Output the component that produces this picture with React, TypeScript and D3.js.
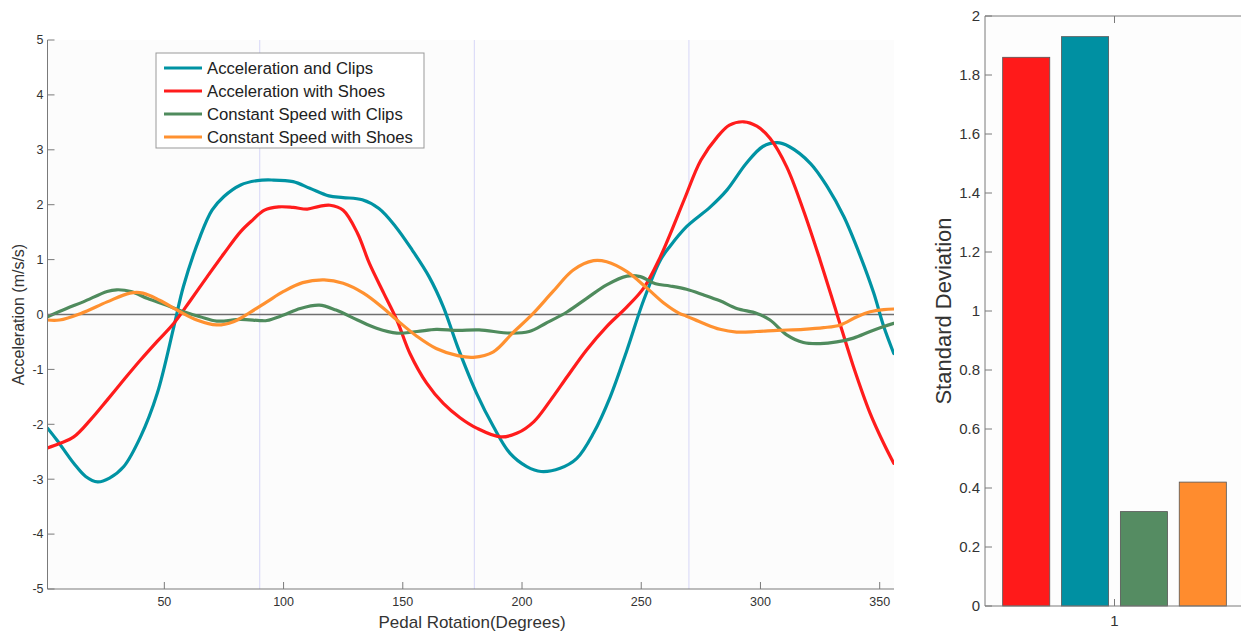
import React from "react";
import * as d3 from "d3";

// ---- Data ----
const seriesNames = [
  "Acceleration and Clips",
  "Acceleration with Shoes",
  "Constant Speed with Clips",
  "Constant Speed with Shoes",
];
const seriesColors = ["#0093a3", "#ff1c1c", "#4f8b5d", "#ff9130"];

const accelClips: [number, number][] = [
  [1, -2.07], [5, -2.29], [12, -2.71], [17, -2.95], [22, -3.05], [27, -2.98], [33, -2.77], [40, -2.23],
  [47, -1.44], [54, -0.22], [58, 0.51], [65, 1.42], [70, 1.9], [75, 2.15], [82, 2.36], [89, 2.44],
  [95, 2.45], [104, 2.42], [111, 2.3], [119, 2.16], [125, 2.13], [133, 2.09], [140, 1.93],
  [147, 1.6], [154, 1.17], [161, 0.69], [167, 0.14], [173, -0.59], [181, -1.44], [188, -2.04],
  [195, -2.53], [202, -2.77], [208, -2.86], [216, -2.8], [223, -2.62], [230, -2.16], [237, -1.5],
  [244, -0.65], [251, 0.26], [258, 0.99], [262, 1.24], [269, 1.6], [279, 1.96], [286, 2.27],
  [294, 2.75], [301, 3.06], [307, 3.13], [312, 3.06], [321, 2.75], [328, 2.33], [335, 1.78],
  [342, 1.05], [347.5, 0.39], [351.7, -0.22], [355.9, -0.71],
];
const accelShoes: [number, number][] = [
  [1, -2.43], [6, -2.35], [12, -2.23], [19, -1.92], [26, -1.56], [33, -1.19], [40, -0.83],
  [47, -0.49], [54, -0.16], [61, 0.26], [68, 0.69], [75, 1.11], [82, 1.51], [87, 1.72],
  [92, 1.9], [98, 1.96], [104, 1.95], [110, 1.92], [115, 1.97], [119.5, 1.99], [125, 1.9], [131, 1.48],
  [136, 0.93], [142, 0.39], [147.5, -0.1], [153, -0.71], [160, -1.25], [167, -1.62], [174, -1.88],
  [181, -2.07], [191, -2.23], [198, -2.16], [205, -1.95], [212, -1.56], [219, -1.13], [227, -0.65],
  [235.5, -0.22], [244, 0.14], [251, 0.48], [258, 1.05], [262, 1.45], [268, 2.09], [275, 2.81],
  [282, 3.24], [287, 3.45], [293, 3.51], [298.5, 3.43], [304, 3.21], [311, 2.69], [318, 1.9],
  [325, 0.99], [332, 0.02], [339, -0.95], [346, -1.8], [351.7, -2.35], [355.9, -2.71],
];
const constClips: [number, number][] = [
  [1, -0.04], [9, 0.11], [16, 0.23], [26, 0.42], [30, 0.45], [36, 0.42], [43, 0.29], [51, 0.17],
  [58, 0.05], [65, -0.04], [72, -0.12], [82, -0.09], [90, -0.11], [93, -0.11], [100, -0.01],
  [107, 0.11], [115, 0.17], [122, 0.08], [131, -0.1], [139, -0.25], [147.5, -0.34], [156, -0.31],
  [164, -0.27], [173, -0.29], [182, -0.28], [195, -0.34], [203, -0.31], [210, -0.16], [219, 0.05],
  [227, 0.29], [235.5, 0.54], [244, 0.7], [249.6, 0.69], [256, 0.56], [262, 0.52], [269, 0.46],
  [276, 0.36], [283, 0.25], [290, 0.11], [298.5, 0.02], [304, -0.1], [311, -0.37], [318, -0.51],
  [325, -0.53], [332, -0.5], [339, -0.43], [346, -0.31], [351.7, -0.22], [355.9, -0.16],
];
const constShoes: [number, number][] = [
  [1, -0.1], [6, -0.1], [15, 0.02], [26, 0.23], [35.6, 0.39], [41, 0.39], [48, 0.26], [56.6, 0.05],
  [63.6, -0.1], [72, -0.19], [79, -0.13], [86, 0.04], [93, 0.23], [100, 0.42], [108, 0.58],
  [117, 0.63], [125, 0.57], [133.5, 0.39], [142, 0.11], [147.5, -0.1], [156, -0.4], [164, -0.62],
  [173, -0.75], [179.6, -0.78], [188, -0.68], [196, -0.34], [204.7, 0.02], [213, 0.42], [221.5, 0.81],
  [230, 0.98], [235.5, 0.96], [244, 0.78], [252.4, 0.48], [260, 0.19], [266, 0.02], [269, -0.03],
  [276, -0.16], [283, -0.27], [290, -0.32], [298.5, -0.31], [307, -0.29], [318, -0.27], [326.5, -0.24],
  [333.5, -0.19], [340.5, -0.04], [346, 0.05], [351.7, 0.09], [355.9, 0.1],
];
const lineSeries = [accelClips, accelShoes, constClips, constShoes];

const xTicks = [50, 100, 150, 200, 250, 300, 350];
const yTicks = [-5, -4, -3, -2, -1, 0, 1, 2, 3, 4, 5];
const quarterLines = [90, 180, 270];

// Bar chart
const barOrder = ["Acceleration with Shoes", "Acceleration and Clips", "Constant Speed with Clips", "Constant Speed with Shoes"];
const barColors = ["#ff1a1a", "#0090a2", "#558c62", "#ff8c2e"];
const barValues = [1.86, 1.93, 0.32, 0.42];
const barYTicks = [0, 0.2, 0.4, 0.6, 0.8, 1, 1.2, 1.4, 1.6, 1.8, 2];

const FONT = "'Liberation Sans', Arial, Helvetica, sans-serif";
const TEXT = "#333";
const AXIS = "#7a7a7a";

export default function App() {
  // left plot
  const L = { left: 47.5, right: 894, top: 40, bottom: 589 };
  const x = d3.scaleLinear().domain([1, 356]).range([L.left, L.right]);
  const y = d3.scaleLinear().domain([-5, 5]).range([L.bottom, L.top]);
  const line = d3
    .line<[number, number]>()
    .x((d) => x(d[0]))
    .y((d) => y(d[1]))
    .curve(d3.curveCatmullRom.alpha(0.5));

  // right plot
  const R = { left: 985, right: 1244, top: 16, bottom: 606 };
  const bx = d3.scaleLinear().domain([0.6, 1.4]).range([R.left, R.right]);
  const by = d3.scaleLinear().domain([0, 2]).range([R.bottom, R.top]);
  const nb = barValues.length;
  const groupW = Math.min(0.8, nb / (nb + 1.5));
  const slot = groupW / nb;
  const barW = slot * 0.8;

  return (
    <svg width={1241} height={633} style={{ display: "block", background: "#fff", fontFamily: FONT }}>
      <style>{`body{margin:0}`}</style>
      {/* ---------- Left plot ---------- */}
      <rect x={L.left} y={L.top} width={L.right - L.left} height={L.bottom - L.top} fill="#fcfcfc" />
      {quarterLines.map((q) => (
        <line key={q} x1={x(q)} x2={x(q)} y1={L.top} y2={L.bottom} stroke="#d6d6f7" strokeWidth={1} />
      ))}
      <line x1={L.left} x2={L.right} y1={y(0)} y2={y(0)} stroke="#6e6e6e" strokeWidth={1.6} />
      <g clipPath="url(#clipL)">
        {lineSeries.map((s, i) => (
          <path key={i} d={line(s) || ""} fill="none" stroke={seriesColors[i]} strokeWidth={3.2}
            strokeLinejoin="round" strokeLinecap="round" />
        ))}
      </g>
      <defs>
        <clipPath id="clipL">
          <rect x={L.left} y={L.top} width={L.right - L.left} height={L.bottom - L.top} />
        </clipPath>
      </defs>
      {/* axes */}
      <line x1={L.left} x2={L.left} y1={L.top} y2={L.bottom} stroke={AXIS} strokeWidth={1} />
      <line x1={L.left} x2={L.right} y1={L.bottom} y2={L.bottom} stroke={AXIS} strokeWidth={1} />
      {yTicks.map((t) => (
        <g key={t}>
          <line x1={L.left} x2={L.left + 7} y1={y(t)} y2={y(t)} stroke={AXIS} />
          <text x={L.left - 4} y={y(t)} dy="0.35em" textAnchor="end" fontSize={12.5} fill={TEXT}>{t}</text>
        </g>
      ))}
      {xTicks.map((t) => (
        <g key={t}>
          <line x1={x(t)} x2={x(t)} y1={L.bottom} y2={L.bottom - 7} stroke={AXIS} />
          <text x={x(t)} y={L.bottom + 17} textAnchor="middle" fontSize={12.5} fill={TEXT}>{t}</text>
        </g>
      ))}
      <text x={472} y={628} textAnchor="middle" fontSize={17} fill={TEXT}>Pedal Rotation(Degrees)</text>
      <text transform={`translate(24,${(L.top + L.bottom) / 2}) rotate(-90)`} textAnchor="middle" fontSize={16} fill={TEXT}>
        Acceleration (m/s/s)
      </text>
      {/* legend */}
      <g>
        <rect x={156} y={53} width={268} height={95} fill="#fff" stroke="#999" strokeWidth={1} />
        {seriesNames.map((n, i) => (
          <g key={n} transform={`translate(0,${68 + i * 23})`}>
            <line x1={164} x2={202} y1={0} y2={0} stroke={seriesColors[i]} strokeWidth={3.2} />
            <text x={207} y={0} dy="0.35em" fontSize={16.7} fill="#222">{n}</text>
          </g>
        ))}
      </g>

      {/* ---------- Right bar chart ---------- */}
      <rect x={R.left} y={R.top} width={R.right - R.left} height={R.bottom - R.top} fill="#fdfdfd" />
      {barValues.map((v, i) => {
        const c = 1 + (i - (nb - 1) / 2) * slot;
        return (
          <rect key={barOrder[i]} x={bx(c - barW / 2)} y={by(v)} width={bx(c + barW / 2) - bx(c - barW / 2)}
            height={by(0) - by(v)} fill={barColors[i]} stroke="#555" strokeWidth={0.8} />
        );
      })}
      <line x1={R.left} x2={R.left} y1={R.top} y2={R.bottom} stroke={AXIS} />
      <line x1={R.left} x2={R.right} y1={R.bottom} y2={R.bottom} stroke={AXIS} />
      <line x1={R.left} x2={R.right} y1={R.top} y2={R.top} stroke={AXIS} />
      {barYTicks.map((t) => (
        <g key={t}>
          <line x1={R.left} x2={R.left + 7} y1={by(t)} y2={by(t)} stroke={AXIS} />
          <text x={R.left - 5} y={by(t)} dy="0.35em" textAnchor="end" fontSize={15} fill={TEXT}>{t}</text>
        </g>
      ))}
      <line x1={bx(1)} x2={bx(1)} y1={R.bottom} y2={R.bottom - 7} stroke={AXIS} />
      <line x1={bx(1)} x2={bx(1)} y1={R.top} y2={R.top + 7} stroke={AXIS} />
      <text x={bx(1)} y={R.bottom + 20} textAnchor="middle" fontSize={15} fill={TEXT}>1</text>
      <text transform={`translate(951,${311}) rotate(-90)`} textAnchor="middle" fontSize={22} fill={TEXT}>
        Standard Deviation
      </text>
    </svg>
  );
}
